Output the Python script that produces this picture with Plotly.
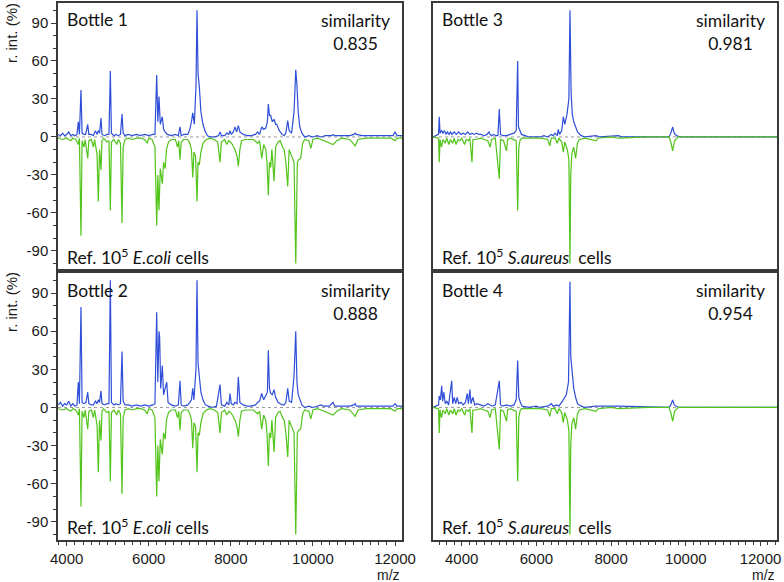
import plotly.graph_objects as go

# ---------------- data (m/z, relative intensity %) ----------------
ecoli_ref_mz = [3790, 3900, 4000, 4100, 4150, 4220, 4283, 4310, 4348, 4375, 4420, 4450, 4512, 4540, 4600, 4650, 4680,
                4740, 4770, 4800, 4836, 4860, 4900, 4980, 5030, 5063, 5090, 5150, 5220, 5260, 5310, 5348, 5375, 5420,
                5500, 5600, 5700, 5800, 5900, 5960, 6000, 6080, 6150, 6193, 6220, 6249, 6280, 6330, 6360, 6400, 6430,
                6480, 6550, 6650, 6700, 6730, 6761, 6790, 6850, 6950, 7000, 7040, 7071, 7100, 7140, 7175, 7200, 7231,
                7270, 7320, 7400, 7500, 7600, 7680, 7736, 7770, 7850, 7900, 7950, 8020, 8101, 8150, 8182, 8220, 8260,
                8350, 8450, 8550, 8650, 8700, 8752, 8800, 8850, 8880, 8913, 8940, 8971, 9000, 9052, 9090, 9150, 9200,
                9260, 9300, 9340, 9386, 9420, 9480, 9540, 9581, 9620, 9650, 9700, 9750, 9800, 9900, 9950, 10000, 10100,
                10200, 10400, 10490, 10580, 10700, 10900, 11026, 11100, 11300, 11500, 11700, 11900, 12001, 12050, 12170]
ecoli_ref_int = [-1, -2, -1, -3, -1, -2, -6, -1, -78, -3, -8, -2, -17, -3, -2, -8, -2,
                 -14, -51, -10, -26, -3, -1, -4, -3, -58, -4, -2, -6, -2, -5, -68, -8, -2,
                 -1, -2, -1, -1, -2, -5, -1, -2, -8, -70, -30, -58, -25, -37, -20, -25, -10,
                 -4, -2, -2, -8, -3, -18, -4, -2, -2, -5, -10, -32, -12, -15, -51, -20, -22,
                 -12, -5, -2, -1, -2, -4, -20, -4, -2, -6, -3, -5, -10, -15, -23, -10, -3,
                 -2, -2, -2, -5, -3, -17, -6, -10, -20, -46, -20, -24, -10, -35, -8, -4, -3,
                 -8, -10, -20, -39, -10, -15, -20, -100, -20, -18, -17, -5, -2, -3, -9, -2, -1,
                 -2, -5, -6, -3, -1, -2, -7, -2, -1, -1, -1, -1, -3, -1, -1]

bottle1_mz = [3790, 3850, 3900, 3950, 4000, 4050, 4100, 4150, 4200, 4250, 4283, 4310, 4348, 4375, 4420, 4460, 4512,
              4540, 4600, 4650, 4700, 4740, 4770, 4800, 4836, 4860, 4920, 4980, 5030, 5063, 5090, 5150, 5200, 5260,
              5310, 5348, 5375, 5420, 5500, 5600, 5700, 5800, 5900, 6000, 6100, 6150, 6193, 6220, 6249, 6280, 6330,
              6360, 6400, 6450, 6550, 6650, 6720, 6761, 6790, 6850, 6950, 7000, 7040, 7071, 7110, 7150, 7175, 7200,
              7231, 7270, 7320, 7380, 7430, 7500, 7600, 7700, 7736, 7770, 7850, 7900, 7950, 7980, 8010, 8060, 8101,
              8140, 8182, 8220, 8300, 8400, 8500, 8600, 8650, 8700, 8752, 8800, 8850, 8890, 8913, 8940, 8971, 9010,
              9052, 9090, 9118, 9180, 9250, 9300, 9340, 9386, 9420, 9480, 9540, 9581, 9610, 9640, 9680, 9730, 9800,
              9900, 10000, 10100, 10200, 10300, 10450, 10490, 10530, 10700, 10900, 11000, 11026, 11060, 11200, 11400,
              11600, 11800, 11950, 12001, 12050, 12170]
bottle1_int = [2, 1, 3, 1, 2, 4, 1, 2, 1, 2, 12, 2, 37, 3, 2, 2, 10,
               2, 2, 1, 5, 2, 5, 3, 15, 2, 1, 2, 2, 52, 3, 1, 2, 1,
               2, 18, 3, 1, 2, 1, 2, 1, 2, 1, 2, 2, 49, 12, 32, 10, 16,
               6, 4, 2, 1, 2, 1, 8, 1, 2, 2, 6, 12, 19, 10, 40, 100, 50,
               40, 20, 10, 4, 1, 0, 0, 1, 4, 1, 1, 3, 2, 5, 2, 4, 8,
               4, 9, 4, 2, 1, 1, 2, 4, 2, 8, 6, 7, 12, 26, 17, 17, 12,
               14, 10, 10, 5, 2, 1, 3, 13, 5, 3, 20, 53, 41, 20, 8, 3, 0,
               1, 0, 1, 0, 1, 1, 2, 1, 1, 1, 2, 3, 2, 1, 1,
               1, 1, 1, 4, 1, 1]

bottle2_mz = [3790, 3850, 3900, 3950, 4000, 4050, 4100, 4150, 4200, 4250, 4283, 4310, 4348, 4375, 4420, 4470, 4512,
              4540, 4600, 4650, 4700, 4740, 4770, 4800, 4836, 4860, 4920, 4980, 5030, 5063, 5090, 5150, 5200, 5260,
              5310, 5348, 5375, 5420, 5500, 5600, 5700, 5800, 5900, 6000, 6100, 6150, 6193, 6220, 6249, 6265, 6290,
              6330, 6360, 6437, 6470, 6550, 6650, 6720, 6761, 6790, 6850, 6950, 7000, 7040, 7071, 7100, 7150, 7175,
              7200, 7231, 7270, 7320, 7380, 7450, 7550, 7650, 7736, 7770, 7850, 7900, 7950, 7980, 8010, 8060, 8101,
              8150, 8182, 8220, 8300, 8400, 8500, 8600, 8650, 8700, 8752, 8800, 8850, 8890, 8913, 8940, 8971, 9010,
              9052, 9090, 9150, 9250, 9300, 9340, 9386, 9420, 9480, 9540, 9581, 9610, 9640, 9680, 9730, 9800, 9900,
              10000, 10100, 10200, 10250, 10400, 10490, 10530, 10700, 10900, 11000, 11026, 11060, 11200, 11400, 11600,
              11800, 11950, 12001, 12050, 12170]
bottle2_int = [2, 4, 1, 3, 2, 5, 1, 3, 1, 2, 20, 3, 79, 4, 3, 4, 12,
               3, 2, 2, 5, 3, 6, 4, 13, 3, 2, 3, 3, 100, 4, 2, 3, 2,
               3, 44, 5, 2, 2, 1, 2, 1, 2, 1, 2, 3, 75, 20, 60, 55, 15,
               33, 10, 20, 4, 2, 1, 2, 21, 2, 1, 2, 4, 6, 15, 6, 30, 100,
               35, 22, 12, 6, 2, 1, 0, 1, 18, 2, 1, 4, 2, 11, 3, 2, 4,
               3, 24, 4, 2, 1, 1, 2, 4, 5, 11, 6, 9, 12, 45, 15, 11, 10,
               14, 8, 4, 2, 2, 4, 15, 5, 4, 25, 60, 20, 10, 6, 2, 0, 1,
               0, 1, 2, 1, 1, 4, 1, 1, 1, 2, 3, 1, 1, 1, 1,
               1, 1, 3, 1, 1]

saureus_ref_mz = [3232, 3380, 3400, 3420, 3460, 3500, 3560, 3600, 3660, 3700, 3760, 3800, 3850, 3900, 3950, 4000,
                  4080, 4120, 4180, 4220, 4276, 4300, 4380, 4500, 4600, 4700, 4760, 4800, 4900, 5007, 5040, 5120,
                  5200, 5230, 5300, 5460, 5499, 5530, 5560, 5600, 5800, 6000, 6100, 6300, 6360, 6400, 6500, 6560,
                  6600, 6680, 6720, 6760, 6830, 6870, 6899, 6920, 6950, 7000, 7050, 7100, 7150, 7300, 7600, 7650,
                  8000, 8200, 9000, 9550, 9600, 9648, 9700, 9800, 12442]
saureus_ref_int = [0, -1, -20, -2, -8, -2, -5, -1, -6, -2, -5, -1, -6, -2, -3, -1,
                   -6, -2, -3, -1, -20, -2, -2, -1, -2, -3, -8, -2, -1, -33, -2, -3,
                   -11, -2, -1, -3, -58, -8, -3, -1, -1, -1, -1, -2, -7, -1, -1, -5,
                   -1, -4, -12, -4, -10, -18, -100, -30, -13, -8, -17, -5, -2, -1, -3, -1,
                   0, -1, 0, 0, -4, -11, -3, 0, 0]

bottle3_mz = [3232, 3380, 3400, 3420, 3460, 3500, 3540, 3580, 3620, 3660, 3700, 3740, 3800, 3860, 3920, 3980, 4040,
              4100, 4160, 4220, 4276, 4330, 4400, 4460, 4520, 4600, 4680, 4731, 4760, 4800, 4850, 4920, 4970, 5007,
              5040, 5100, 5200, 5300, 5400, 5460, 5499, 5520, 5550, 5600, 5700, 5800, 6100, 6200, 6300, 6400, 6450,
              6500, 6560, 6586, 6620, 6680, 6720, 6760, 6820, 6870, 6899, 6930, 6960, 7000, 7050, 7100, 7200, 7300,
              7600, 7700, 8200, 8300, 9550, 9600, 9648, 9690, 9750, 9850, 12442]
bottle3_int = [0, 2, 16, 3, 5, 3, 5, 2, 4, 2, 4, 2, 4, 2, 4, 2, 3,
               2, 4, 2, 3, 2, 3, 2, 2, 1, 2, 4, 2, 1, 2, 1, 1, 22,
               2, 1, 1, 2, 3, 5, 60, 8, 6, 2, 1, 0, 0, 1, 0, 2, 1,
               3, 1, 6, 2, 5, 16, 10, 18, 30, 100, 35, 18, 12, 8, 4, 1, 0,
               1, 0, 1, 0, 0, 3, 8, 3, 1, 0, 0]

bottle4_mz = [3232, 3380, 3400, 3430, 3465, 3490, 3520, 3560, 3600, 3650, 3732, 3760, 3800, 3840, 3880, 3920, 3980,
              4040, 4100, 4150, 4180, 4220, 4250, 4300, 4350, 4400, 4500, 4600, 4700, 4760, 4820, 4900, 5007, 5040,
              5100, 5200, 5300, 5400, 5460, 5499, 5530, 5570, 5620, 5800, 6000, 6100, 6300, 6400, 6450, 6550, 6600,
              6700, 6800, 6860, 6899, 6920, 6950, 7000, 7050, 7100, 7200, 7300, 7600, 8200, 9550, 9600, 9648, 9690,
              9800, 12442]
bottle4_int = [0, 2, 9, 6, 17, 5, 12, 3, 5, 2, 21, 3, 8, 3, 8, 3, 4,
               2, 4, 11, 3, 14, 3, 8, 2, 3, 2, 1, 3, 2, 1, 2, 21, 2,
               1, 2, 1, 2, 6, 37, 8, 4, 1, 0, 1, 0, 1, 3, 1, 2, 1,
               5, 10, 20, 99, 40, 29, 15, 8, 3, 1, 0, 1, 1, 0, 2, 6, 2,
               0, 0]

panel_names = ["Bottle 1", "Bottle 3", "Bottle 2", "Bottle 4"]
similarities = ["0.835", "0.981", "0.888", "0.954"]
ref_labels = ["Ref. 10<sup>5</sup> <i>E.coli</i> cells", "Ref. 10<sup>5</sup> <i>S.aureus</i>  cells",
              "Ref. 10<sup>5</sup> <i>E.coli</i> cells", "Ref. 10<sup>5</sup> <i>S.aureus</i>  cells"]
y_tick_vals = [-90, -60, -30, 0, 30, 60, 90]
y_tick_text = ["-90", "-60", "-30", "0", "30", "60", "90"]
x_tick_vals = [4000, 6000, 8000, 10000, 12000]
x_tick_text = ["4000", "6000", "8000", "10000", "12000"]

# ---------------- styling / layout ----------------
BLUE = "#2f4fd8"
GREEN = "#52c41a"
W, H = 784, 582

def px(x):
    return x / W

def py(y):
    return 1 - y / H

left_dom = [px(58), px(402)]
right_dom = [px(433), px(777)]
top_dom = [py(269), py(3)]
bot_dom = [py(540), py(273)]
xr_left = [3788, 12170]
xr_right = [3232, 12442]
yr = [-104.3, 105.8]

fig = go.Figure()

panels = [
    ("", bottle1_mz, bottle1_int, ecoli_ref_mz, ecoli_ref_int),
    ("2", bottle3_mz, bottle3_int, saureus_ref_mz, saureus_ref_int),
    ("3", bottle2_mz, bottle2_int, ecoli_ref_mz, ecoli_ref_int),
    ("4", bottle4_mz, bottle4_int, saureus_ref_mz, saureus_ref_int),
]

for i, (s, smz, sint, rmz, rint) in enumerate(panels):
    xa, ya = "x" + s, "y" + s
    right = i in (1, 3)
    order = [(rmz, rint, GREEN), (smz, sint, BLUE)]
    if right:
        order = order[::-1]
    for mz, it, col in order:
        fig.add_trace(go.Scatter(x=mz, y=it, mode="lines", xaxis=xa, yaxis=ya,
                                 line=dict(color=col, width=1.2), showlegend=False,
                                 hoverinfo="skip"))
    fig.add_shape(type="line", xref=xa + " domain", yref=ya, x0=0, x1=1, y0=0, y1=0,
                  line=dict(color="#9a9a9a", width=1, dash="dot"), layer="below")

axis_line = dict(showline=True, linecolor="#3a3a3a", linewidth=1.5, mirror=True,
                 showgrid=False, zeroline=False, automargin=False)
tickfont = dict(family="Liberation Sans, Arial", size=15, color="#1a1a1a")

def yaxis(dom, anchor, labels):
    d = dict(axis_line, domain=dom, anchor=anchor, range=yr, tickmode="array",
             tickvals=y_tick_vals, ticktext=y_tick_text,
             ticks="outside" if labels else "", ticklen=5, tickcolor="#3a3a3a",
             showticklabels=labels, tickfont=tickfont)
    if labels:
        d["minor"] = dict(dtick=10, ticks="outside", ticklen=3, tickcolor="#3a3a3a")
    return d

def xaxis(dom, anchor, rng, labels):
    d = dict(axis_line, domain=dom, anchor=anchor, range=rng, tickmode="array",
             tickvals=x_tick_vals, ticktext=x_tick_text,
             ticks="outside" if labels else "", ticklen=4, tickcolor="#3a3a3a",
             showticklabels=labels, tickfont=tickfont)
    if labels:
        d["minor"] = dict(dtick=200, tick0=0, ticks="outside", ticklen=3, tickcolor="#3a3a3a")
    return d

fig.update_layout(
    width=W, height=H, margin=dict(l=0, r=0, t=0, b=0, autoexpand=False),
    paper_bgcolor="white", plot_bgcolor="white",
    xaxis=xaxis(left_dom, "y", xr_left, False),
    yaxis=yaxis(top_dom, "x", True),
    xaxis2=xaxis(right_dom, "y2", xr_right, False),
    yaxis2=yaxis(top_dom, "x2", False),
    xaxis3=xaxis(left_dom, "y3", xr_left, True),
    yaxis3=yaxis(bot_dom, "x3", True),
    xaxis4=xaxis(right_dom, "y4", xr_right, True),
    yaxis4=yaxis(bot_dom, "x4", False),
)

textfont = dict(family="Lato, Open Sans, sans-serif", size=17.5, color="#111")
panel_boxes = [(58, 402, 3), (433, 777, 3), (58, 402, 273), (433, 777, 273)]
for i, (xl, xrr, yt) in enumerate(panel_boxes):
    fig.add_annotation(x=px(xl + 7), y=py(yt + 17), xref="paper", yref="paper", text=panel_names[i],
                       showarrow=False, xanchor="left", yanchor="middle", font=textfont)
    fig.add_annotation(x=px(xrr - 47), y=py(yt + 29), xref="paper", yref="paper",
                       text="similarity<br>" + similarities[i], align="center",
                       showarrow=False, xanchor="center", yanchor="middle", font=textfont)
    fig.add_annotation(x=px(xl + 7), y=py(yt + 253), xref="paper", yref="paper", text=ref_labels[i],
                       showarrow=False, xanchor="left", yanchor="middle", font=textfont)

for yc in (33, 302):
    fig.add_annotation(x=px(11), y=py(yc), xref="paper", yref="paper", text="r. int. (%)",
                       textangle=-90, showarrow=False, xanchor="center", yanchor="middle",
                       font=dict(family="Liberation Sans, Arial", size=15, color="#1a1a1a"))

for xr_ in (402, 777):
    fig.add_annotation(x=px(xr_), y=py(575), xref="paper", yref="paper", text="m/z",
                       showarrow=False, xanchor="right", yanchor="middle",
                       font=dict(family="Liberation Sans, Arial", size=14, color="#1a1a1a"))

fig.write_html("out.html", config={"displayModeBar": False},
               post_script="document.body.style.margin='0';document.body.style.overflow='hidden';")
